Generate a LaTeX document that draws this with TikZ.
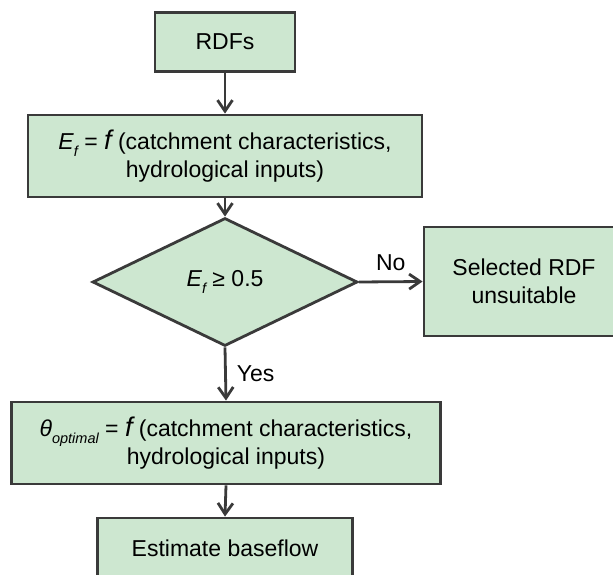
\documentclass[tikz,border=0pt]{standalone}
\usepackage{fontspec}
\setmainfont{Liberation Sans}
\usetikzlibrary{shapes.geometric,arrows.meta}
\definecolor{boxfill}{RGB}{205,231,208}
\definecolor{edge}{RGB}{58,58,58}
\newcommand{\mysub}[1]{\raisebox{-0.28em}{\fontsize{14.5}{14.5}\selectfont\itshape #1}}
\newcommand{\bigf}{{\fontsize{27}{27}\selectfont\itshape f}}
\tikzset{
  box/.style={draw=edge, line width=2.8pt, fill=boxfill, rectangle, inner sep=0pt, align=center, text=black},
  dia/.style={draw=edge, line width=2.8pt, fill=boxfill, diamond, inner sep=0pt, text=black},
  arr/.style={draw=edge, line width=2.8pt, -{Straight Barb[length=11pt,width=15pt]}},
  lbl/.style={text=black, inner sep=0pt}
}
\begin{document}
\begin{tikzpicture}[x=1pt,y=-1pt,font=\fontsize{23}{27.6}\selectfont]
\useasboundingbox (0,0) rectangle (613,575);
\begin{scope}
\clip (0,0) rectangle (613,575);
\node[box, minimum width=140pt, minimum height=59pt] (rdf) at (225,42) {RDFs};
\node[box, minimum width=394pt, minimum height=82pt] (ef) at (225,156)
  {\textit{E}\mysub{f} = \bigf\ (catchment characteristics,\\hydrological inputs)};
\node[dia, minimum width=265pt, minimum height=128pt] (dec) at (225,282)
  {\textit{E}\mysub{f} ≥ 0.5};
\node[box, minimum width=200pt, minimum height=109pt] (sel) at (524,281.5)
  {Selected RDF\\unsuitable};
\node[box, minimum width=429pt, minimum height=82pt] (th) at (226,443)
  {\textit{θ}\mysub{optimal} = \bigf\ (catchment characteristics,\\hydrological inputs)};
\node[box, minimum width=255pt, minimum height=60pt] (est) at (225,548)
  {Estimate baseflow};
\draw[arr] (rdf.south) -- (ef.north);
\draw[arr] (ef.south) -- (dec.north);
\draw[arr] (dec.east) -- node[lbl, above=10pt] (no) {No} (sel.west);
\draw[arr] (dec.south) -- node[lbl, right=10pt] (yes) {Yes} (th.north);
\draw[arr] (th.south) -- (est.north);
\end{scope}
\end{tikzpicture}
\end{document}
